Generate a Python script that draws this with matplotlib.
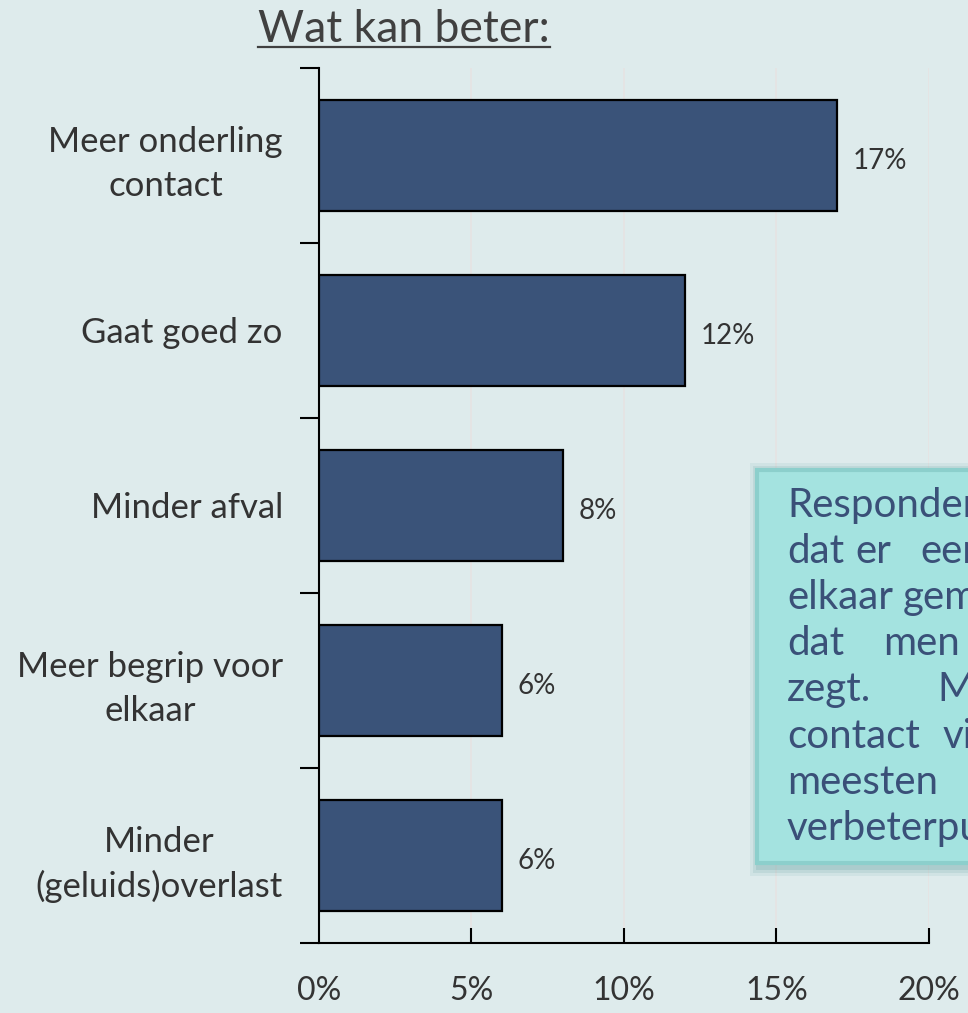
import numpy as np
import matplotlib.pyplot as plt
from matplotlib.patches import Rectangle

# data
categories = ['Meer onderling\ncontact', 'Gaat goed zo', 'Minder afval',
              'Meer begrip voor\nelkaar', 'Minder\n(geluids)overlast']
values = [17, 12, 8, 6, 6]
xticks = [0, 5, 10, 15, 20]
xticklabels = ['0%', '5%', '10%', '15%', '20%']

bg = '#DEEBEC'
barcol = '#3A5379'
txtcol = '#333333'

plt.rcParams['font.family'] = ['Lato', 'DejaVu Sans']

W, H = 968, 1013
fig = plt.figure(figsize=(W / 100, H / 100), dpi=100, facecolor=bg)
ax = fig.add_axes([0.3295, 0.0691, 0.6302, 0.8638])
ax.set_facecolor(bg)

y = np.arange(len(categories))[::-1]
ax.barh(y, values, height=0.63, color=barcol, edgecolor='black', linewidth=1.6, zorder=3)

for yi, v in zip(y, values):
    ax.text(v + 0.5, yi - 0.03, f'{v}%', va='center', ha='left', fontsize=20, color=txtcol)

ax.set_xlim(0, 20)
ax.set_ylim(-0.5, len(categories) - 0.5)

ax.set_xticks(xticks)
ax.set_xticklabels(xticklabels, fontsize=23, color=txtcol)
ax.tick_params(axis='x', direction='in', length=11, width=1.5, pad=24)
ax.xaxis.get_major_ticks()[0].tick1line.set_visible(False)

ax.set_yticks(y)
ax.set_yticklabels(categories, fontsize=25, color=txtcol, multialignment='center',
                   linespacing=1.45)
ax.tick_params(axis='y', which='major', length=0, pad=26)
ax.set_yticks(np.arange(len(categories) + 1) - 0.5, minor=True)
ax.tick_params(axis='y', which='minor', direction='out', length=14, width=1.5)

ax.grid(axis='x', color='#E6E3E3', linewidth=1.2, zorder=0)
for s in ['top', 'right']:
    ax.spines[s].set_visible(False)
for s in ['left', 'bottom']:
    ax.spines[s].set_linewidth(1.5)

# title, underlined
fig.text(404 / W, 1 - 42 / H, 'Wat kan beter:', ha='center', va='baseline', fontsize=32,
         color='#404040')
fig.add_artist(plt.Line2D([258 / W, 550 / W], [1 - 47 / H, 1 - 47 / H],
                          color='#404040', linewidth=1.6))

# text box (cut off at the right edge)
x0, y0, x1, y1 = 757, 470, 1010, 863
for k, a in [(10, 0.10), (7, 0.15), (4, 0.2)]:
    fig.add_artist(Rectangle(((x0 - k + 3) / W, 1 - (y1 + k + 3) / H),
                             (x1 - x0 + 2 * k) / W, (y1 - y0 + 2 * k) / H,
                             transform=fig.transFigure, facecolor='#5E9E9E',
                             edgecolor='none', alpha=a))
fig.add_artist(Rectangle((x0 / W, 1 - y1 / H), (x1 - x0) / W, (y1 - y0) / H,
                         transform=fig.transFigure, facecolor='#A4E3E0',
                         edgecolor='#8CCFCC', linewidth=3))

box_lines = [
    [(787, 'Respondenten')],
    [(787, 'dat'), (855, 'er'), (920, 'een')],
    [(787, 'elkaar'), (903, 'gemist')],
    [(787, 'dat'), (883, 'men')],
    [(787, 'zegt.'), (937, 'Meer')],
    [(787, 'contact'), (943, 'vinden')],
    [(787, 'meesten')],
    [(787, 'verbeterpunt.')],
]
boxcol = '#3A5078'
for i, words in enumerate(box_lines):
    yy = 1 - (517 + 46.1 * i) / H
    for xw, w in words:
        fig.text(xw / W, yy, w, ha='left', va='baseline', fontsize=29, color=boxcol)

fig.savefig('out.png', dpi=100, facecolor=bg)
